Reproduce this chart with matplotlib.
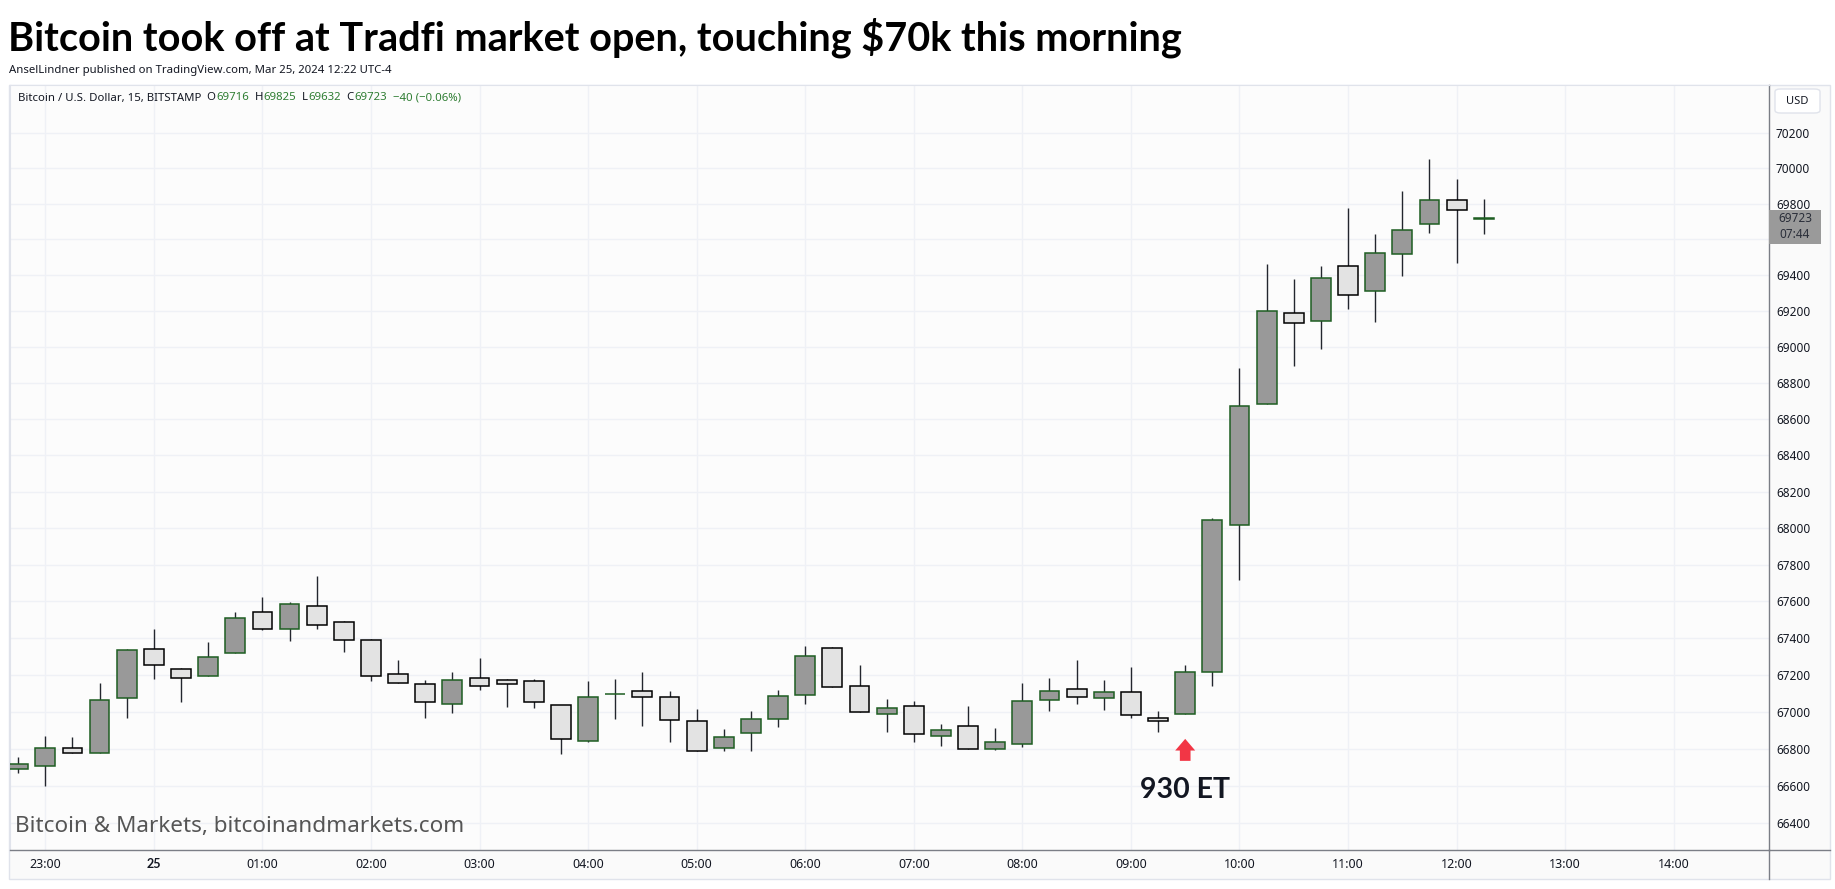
import numpy as np
import matplotlib
matplotlib.use('Agg')
import matplotlib.pyplot as plt
from matplotlib.ticker import FixedLocator, NullLocator, FixedFormatter
from matplotlib.patches import Rectangle, FancyBboxPatch
from matplotlib.lines import Line2D
from matplotlib.transforms import offset_copy, IdentityTransform

plt.rcParams['font.family'] = ['Noto Sans', 'DejaVu Sans']
BOLD_FAMILY = ['Lato', 'DejaVu Sans']

# 15 min BTC/USD candles, Mar 24 22:45 -> Mar 25 12:15 (ET)
times = ['22:45', '23:00', '23:15', '23:30', '23:45',
         '00:00', '00:15', '00:30', '00:45', '01:00', '01:15', '01:30', '01:45',
         '02:00', '02:15', '02:30', '02:45', '03:00', '03:15', '03:30', '03:45',
         '04:00', '04:15', '04:30', '04:45', '05:00', '05:15', '05:30', '05:45',
         '06:00', '06:15', '06:30', '06:45', '07:00', '07:15', '07:30', '07:45',
         '08:00', '08:15', '08:30', '08:45', '09:00', '09:15', '09:30', '09:45',
         '10:00', '10:15', '10:30', '10:45', '11:00', '11:15', '11:30', '11:45',
         '12:00', '12:15']
opens = [66691, 66708, 66805, 66778, 67076,
         67341, 67233, 67195, 67318, 67540, 67449, 67573, 67487,
         67389, 67205, 67151, 67043, 67184, 67173, 67167, 67038,
         66843, 67095, 67113, 67081, 66951, 66805, 66887, 66962,
         67091, 67346, 67140, 66989, 67033, 66870, 66924, 66800,
         66827, 67062, 67122, 67073, 67106, 66967, 66989, 67215,
         68017, 68684, 69189, 69144, 69451, 69312, 69518, 69688,
         69819, 69716]
highs = [66758, 66872, 66862, 67154, 67340,
         67451, 67236, 67380, 67542, 67624, 67597, 67738, 67492,
         67395, 67278, 67173, 67213, 67293, 67180, 67178, 67038,
         67169, 67175, 67218, 67115, 67013, 66910, 67002, 67120,
         67358, 67353, 67251, 67072, 67056, 66937, 67029, 66911,
         67156, 67184, 67282, 67173, 67240, 67007, 67254, 68057,
         68880, 69464, 69379, 69453, 69775, 69628, 69872, 70053,
         69940, 69825]
lows = [66668, 66603, 66778, 66778, 66966,
        67176, 67052, 67195, 67318, 67442, 67382, 67447, 67322,
        67166, 67157, 66966, 66993, 67117, 67025, 67020, 66771,
        66838, 66960, 66922, 66836, 66789, 66787, 66787, 66917,
        67041, 67135, 67000, 66890, 66836, 66814, 66800, 66793,
        66809, 67004, 67044, 67009, 66965, 66889, 66989, 67142,
        67716, 68684, 68892, 68987, 69209, 69136, 69398, 69636,
        69466, 69632]
closes = [66719, 66805, 66778, 67065, 67336,
          67254, 67184, 67298, 67508, 67449, 67584, 67471, 67389,
          67195, 67157, 67054, 67173, 67140, 67151, 67054, 66854,
          67081, 67098, 67081, 66957, 66789, 66865, 66962, 67086,
          67302, 67135, 67000, 67022, 66881, 66902, 66800, 66838,
          67060, 67111, 67078, 67106, 66984, 66951, 67215, 68044,
          68672, 69200, 69133, 69383, 69290, 69524, 69655, 69819,
          69763, 69723]

price_ticks = list(range(66400, 70201, 200))
hour_labels = ['23:00', '25', '01:00', '02:00', '03:00', '04:00', '05:00', '06:00',
               '07:00', '08:00', '09:00', '10:00', '11:00', '12:00', '13:00', '14:00']
open_time = '09:30'
timer = '07:44'

W, H = 1835, 889
fig = plt.figure(figsize=(W / 100, H / 100), dpi=100)
fig.patch.set_facecolor('white')


def fx(x):
    return x / W


def fy(y):
    return 1 - y / H


# chart panel frame
fig.add_artist(Rectangle((fx(9), fy(879)), fx(1830 - 9), (879 - 85) / H,
                         transform=fig.transFigure, facecolor='#fafafa',
                         edgecolor='#e0e3eb', lw=1, zorder=0))

ax = fig.add_axes([fx(10), fy(850), fx(1769 - 10), (850 - 85) / H])
ax.set_facecolor('#fcfcfc')
ax.set_yscale('log')
ax.set_ylim(66258, 70472)
ax.set_xlim(-0.30, 64.51)

x = np.arange(len(times))
o = np.array(opens)
c = np.array(closes)
up = c >= o
body_lo = np.minimum(o, c)
body_hi = np.maximum(o, c)

ax.vlines(x, lows, highs, color='#23262e', lw=1.0, zorder=2)
ax.bar(x[up], (body_hi - body_lo)[up], bottom=body_lo[up], width=0.73,
       facecolor='#999999', edgecolor='#1e5e22', lw=1.1, zorder=3)
ax.bar(x[~up], (body_hi - body_lo)[~up], bottom=body_lo[~up], width=0.73,
       facecolor='#e3e3e3', edgecolor='#000000', lw=1.1, zorder=3)

# axes styling
ax.yaxis.set_major_locator(FixedLocator(price_ticks))
ax.yaxis.set_major_formatter(FixedFormatter([str(p) for p in price_ticks]))
ax.yaxis.set_minor_locator(NullLocator())
ax.yaxis.tick_right()
ax.tick_params(axis='y', length=0, pad=5, labelsize=8.5, colors='#131722')

tick_pos = [1 + 4 * k for k in range(len(hour_labels))]
ax.set_xticks(tick_pos)
ax.set_xticklabels(hour_labels)
ax.get_xticklabels()[1].set_fontweight('bold')
ax.get_xticklabels()[1].set_family(BOLD_FAMILY)
ax.tick_params(axis='x', length=0, pad=6, labelsize=9, colors='#131722')

ax.grid(True, color='#eff1f6', lw=1, zorder=0)
ax.set_axisbelow(True)
for side in ['top', 'left']:
    ax.spines[side].set_color('#e0e3eb')
for side in ['right', 'bottom']:
    ax.spines[side].set_color('#7b7e86')
    ax.spines[side].set_linewidth(1)

fig.add_artist(Line2D([fx(1769), fx(1769)], [fy(850), fy(879)],
                      transform=fig.transFigure, color='#7b7e86', lw=1))
fig.add_artist(Line2D([fx(1769), fx(1830)], [fy(850), fy(850)],
                      transform=fig.transFigure, color='#7b7e86', lw=1))

# USD box
fig.add_artist(FancyBboxPatch((fx(1775), fy(113)), fx(45), 24 / H,
                              boxstyle='round,pad=0,rounding_size=0.003',
                              transform=fig.transFigure, facecolor='white',
                              edgecolor='#e0e3eb', lw=1, zorder=4))
fig.text(fx(1797), fy(101), 'USD', ha='center', va='center', fontsize=8, color='#131722', zorder=5)

# last price box
fig.canvas.draw()
ylast = ax.transData.transform((0, closes[-1]))[1]
box_top = ylast + 8
fig.add_artist(Rectangle((1769, box_top - 34), 52, 34, transform=IdentityTransform(),
                         facecolor='#9a9a9a', edgecolor='none', zorder=6))
fig.text(1795 / W, (box_top - 9) / H, str(closes[-1]), ha='center', va='center',
         fontsize=8.5, color='#2a2e39', zorder=7)
fig.text(1795 / W, (box_top - 25) / H, timer, ha='center', va='center',
         fontsize=8.5, color='#2a2e39', zorder=7)

# titles
fig.text(fx(8), fy(50), 'Bitcoin took off at Tradfi market open, touching $70k this morning',
         fontsize=28.5, fontweight='bold', family=BOLD_FAMILY, color='black', va='baseline')
fig.text(fx(9), fy(70), 'AnselLindner published on TradingView.com, Mar 25, 2024 12:22 UTC-4',
         fontsize=8.2, color='#131722', va='center')

# symbol legend line
chg = closes[-1] - closes[-2]
pct = chg / closes[-2] * 100
green = '#2e7d32'
parts = [('Bitcoin / U.S. Dollar, 15, BITSTAMP', '#131722'),
         ('  O', '#131722'), (str(opens[-1]), green),
         ('  H', '#131722'), (str(highs[-1]), green),
         ('  L', '#131722'), (str(lows[-1]), green),
         ('  C', '#131722'), (str(closes[-1]), green),
         ('  {:d} ({:.2f}%)'.format(chg, pct).replace('-', '\u2212'), green)]
renderer = fig.canvas.get_renderer()
xpos = 18
for s, col in parts:
    t = fig.text(fx(xpos), fy(98), s, fontsize=8.2, color=col, va='center')
    xpos += t.get_window_extent(renderer).width

# watermark
fig.text(fx(15), fy(832), 'Bitcoin & Markets, bitcoinandmarkets.com',
         fontsize=16.2, color='#555555', va='baseline')

# 9:30 open marker
i_open = times.index(open_time)
ax.annotate('', xy=(i_open, lows[i_open]),
            xycoords=offset_copy(ax.transData, fig=fig, y=-25, units='dots'),
            xytext=(0, -22), textcoords='offset pixels',
            arrowprops=dict(facecolor='#f23645', edgecolor='none', width=7.7,
                            headwidth=14.4, headlength=8.4, shrink=0))
ax.annotate('930 ET', xy=(i_open, lows[i_open]), xytext=(0, -76),
            textcoords='offset pixels', ha='center', va='center',
            fontsize=20.5, fontweight='bold', family=BOLD_FAMILY, color='#131722')

fig.savefig('out.png', dpi=100, facecolor='white')
